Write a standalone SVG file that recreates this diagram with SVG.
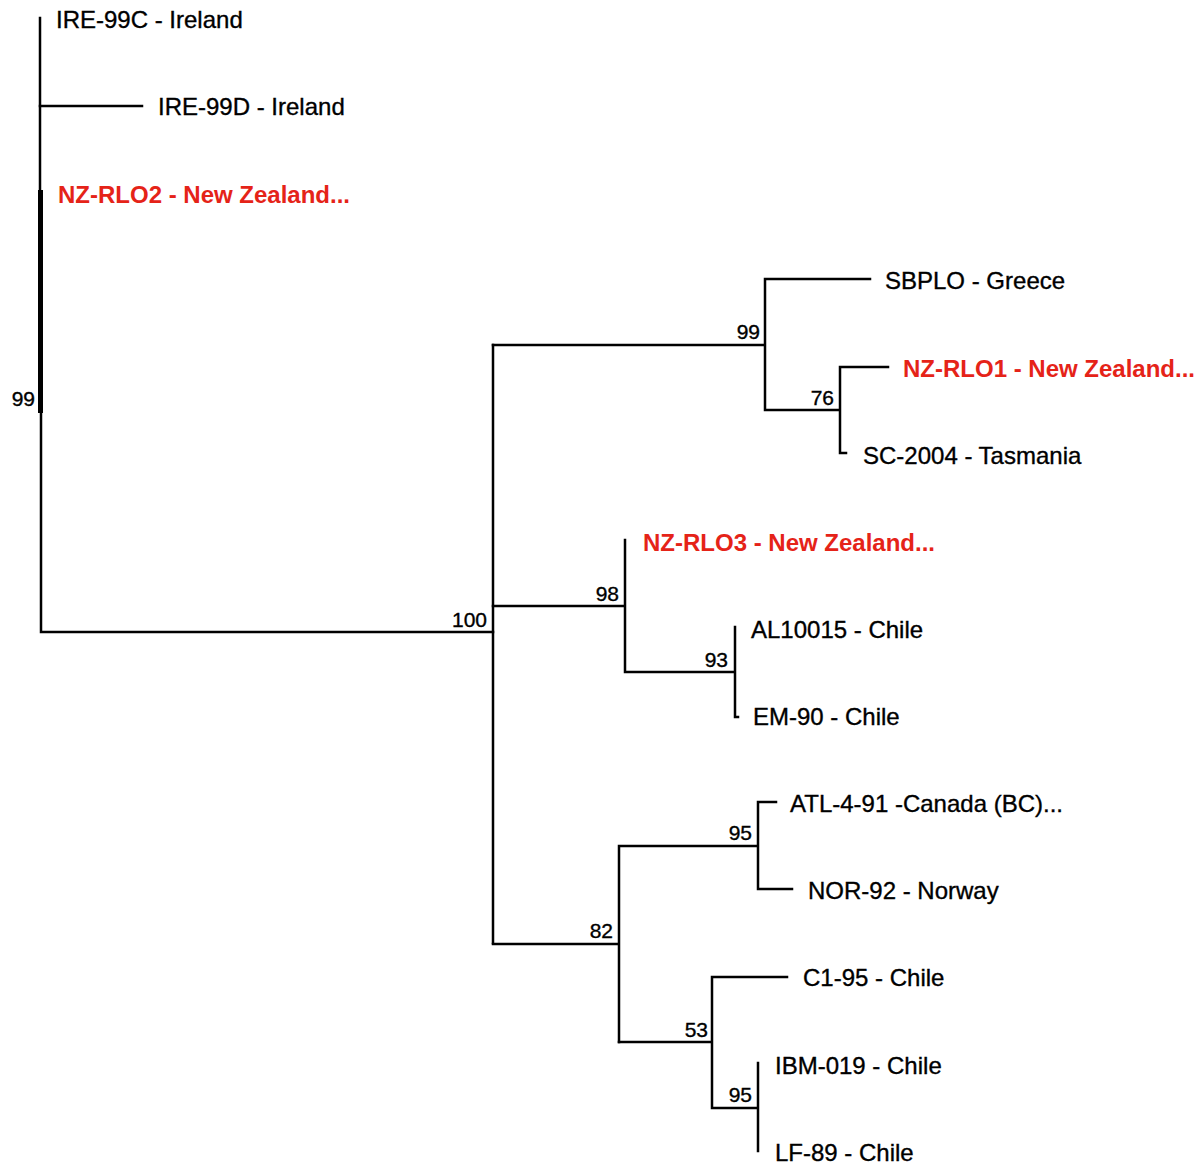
<svg xmlns="http://www.w3.org/2000/svg" width="1204" height="1164" viewBox="0 0 1204 1164">
<style>
.b{stroke:#000;stroke-width:2.5;fill:none;stroke-linecap:square}
.t{font-family:"Liberation Sans",Arial,sans-serif;font-size:24px;fill:#000;stroke:#000;stroke-width:0.35}
.r{font-family:"Liberation Sans",Arial,sans-serif;font-size:24px;font-weight:bold;fill:#e52318}
.n{font-family:"Liberation Sans",Arial,sans-serif;font-size:21px;fill:#000;stroke:#000;stroke-width:0.35;text-anchor:end}
</style>
<rect width="1204" height="1164" fill="#fff"/>
<g id="connectors">
<path class="b" d="M40,18 V190 M41,412 V632 H493"/>
<rect x="38" y="190" width="5" height="223" fill="#000"/>
<path class="b" d="M40,106 H142"/>
<path class="b" d="M493,345 V943"/>
<path class="b" d="M493,345 H765 M765,279 V410 M765,279 H870 M765,410 H840 M840,367 V453 M840,367 H888 M840,453 H846"/>
<path class="b" d="M493,606 H625 M625,540 V672 M625,672 H735 M735,627 V717 M735,717 H738"/>
<path class="b" d="M493,944 H619 M619,846 V1042 M619,846 H758 M758,802 V889 M758,802 H776 M758,889 H792"/>
<path class="b" d="M619,1042 H712 M712,977 V1108 M712,977 H787 M712,1108 H758 M758,1063 V1151"/>
</g>
<g id="leaf-IRE-99C"><text class="t" x="56" y="28">IRE-99C - Ireland</text></g>
<g id="leaf-IRE-99D"><text class="t" x="158" y="115">IRE-99D - Ireland</text></g>
<g id="leaf-NZ-RLO2"><text class="r" x="58" y="203">NZ-RLO2 - New Zealand...</text></g>
<g id="leaf-SBPLO"><text class="t" x="885" y="289">SBPLO - Greece</text></g>
<g id="leaf-NZ-RLO1"><text class="r" x="903" y="377">NZ-RLO1 - New Zealand...</text></g>
<g id="leaf-SC-2004"><text class="t" x="863" y="464">SC-2004 - Tasmania</text></g>
<g id="leaf-NZ-RLO3"><text class="r" x="643" y="551">NZ-RLO3 - New Zealand...</text></g>
<g id="leaf-AL10015"><text class="t" x="751" y="638">AL10015 - Chile</text></g>
<g id="leaf-EM-90"><text class="t" x="753" y="725">EM-90 - Chile</text></g>
<g id="leaf-ATL-4-91"><text class="t" x="790" y="812">ATL-4-91 -Canada (BC)...</text></g>
<g id="leaf-NOR-92"><text class="t" x="808" y="899">NOR-92 - Norway</text></g>
<g id="leaf-C1-95"><text class="t" x="803" y="986">C1-95 - Chile</text></g>
<g id="leaf-IBM-019"><text class="t" x="775" y="1074">IBM-019 - Chile</text></g>
<g id="leaf-LF-89"><text class="t" x="775" y="1161">LF-89 - Chile</text></g>
<g id="node-root"><text class="n" x="35" y="406">99</text></g>
<g id="node-100"><text class="n" x="487" y="627">100</text></g>
<g id="node-99"><text class="n" x="760" y="339">99</text></g>
<g id="node-76"><text class="n" x="834" y="405">76</text></g>
<g id="node-98"><text class="n" x="619" y="601">98</text></g>
<g id="node-93"><text class="n" x="728" y="667">93</text></g>
<g id="node-82"><text class="n" x="613" y="938">82</text></g>
<g id="node-95a"><text class="n" x="752" y="840">95</text></g>
<g id="node-53"><text class="n" x="708" y="1037">53</text></g>
<g id="node-95b"><text class="n" x="752" y="1102">95</text></g>
</svg>
